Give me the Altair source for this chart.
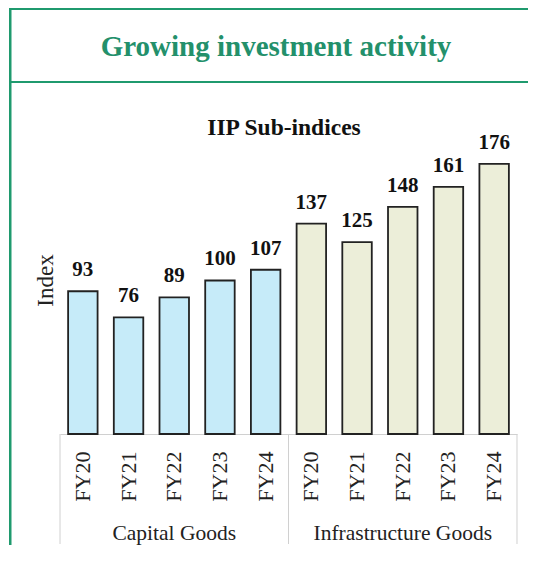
import altair as alt
import pandas as pd

TITLE = "Growing investment activity"
SUBTITLE = "IIP Sub-indices"
Y_TITLE = "Index"
GROUPS = ["Capital Goods", "Infrastructure Goods"]
YEARS = ["FY20", "FY21", "FY22", "FY23", "FY24"]
CAPITAL = [93, 76, 89, 100, 107]
INFRA = [137, 125, 148, 161, 176]
COLORS = ["#c6ebf9", "#eceed9"]

rows = []
for g, vals in zip(GROUPS, [CAPITAL, INFRA]):
    for y, v in zip(YEARS, vals):
        rows.append({"key": f"{g}|{y}", "group": g, "year": y, "value": v})
df = pd.DataFrame(rows)
keys = list(df["key"])

FONT = "Liberation Serif"
GREEN = "#1f9a6e"
W, H = 457, 284

xenc = alt.X(
    "key:N",
    sort=keys,
    scale=alt.Scale(paddingInner=0.355, paddingOuter=0.1775),
    axis=alt.Axis(
        title=None,
        labelExpr="split(datum.label, '|')[1]",
        labelAngle=270,
        labelAlign="right",
        labelBaseline="middle",
        labelPadding=17,
        labelFont=FONT,
        labelFontSize=22,
        labelColor="#222222",
        ticks=False,
        domainColor="#d0d0d0",
        domainWidth=1,
    ),
)

yenc = alt.Y(
    "value:Q",
    scale=alt.Scale(domain=[0, 185], nice=False),
    axis=alt.Axis(
        title=Y_TITLE,
        labels=False,
        ticks=False,
        domain=False,
        grid=False,
        titleFont=FONT,
        titleFontSize=23,
        titleFontWeight="normal",
        titleColor="#222222",
        titleAngle=270,
        titleBaseline="alphabetic",
        titleAlign="center",
        titleX=-8,
        titleY=130,
    ),
)

base = alt.Chart(df)

bars = base.mark_bar(stroke="#222222", strokeWidth=1.8).encode(
    x=xenc,
    y=yenc,
    color=alt.Color("group:N", scale=alt.Scale(domain=GROUPS, range=COLORS), legend=None),
)

labels = base.mark_text(
    font=FONT, fontSize=21, fontWeight="bold", baseline="alphabetic", dy=-15, color="#111111"
).encode(x=alt.X("key:N", sort=keys), y="value:Q", text="value:Q")

rule_left = base.transform_filter(
    alt.FieldOneOfPredicate(field="key", oneOf=[keys[0], keys[5]])
).mark_rule(color="#d0d0d0", strokeWidth=1, xOffset=-8.1).encode(
    x=alt.X("key:N", sort=keys, bandPosition=0),
    y=alt.value(H),
    y2=alt.value(H + 110),
)
rule_right = base.transform_filter(
    alt.FieldOneOfPredicate(field="key", oneOf=[keys[9]])
).mark_rule(color="#d0d0d0", strokeWidth=1, xOffset=8.1).encode(
    x=alt.X("key:N", sort=keys, bandPosition=1),
    y=alt.value(H),
    y2=alt.value(H + 110),
)

group_labels = base.transform_filter(
    alt.FieldOneOfPredicate(field="key", oneOf=[keys[2], keys[7]])
).mark_text(font=FONT, fontSize=21.5, baseline="alphabetic", color="#222222").encode(
    x=alt.X("key:N", sort=keys, bandPosition=0.5),
    y=alt.value(390),
    text="group:N",
)

one = alt.Data(values=[{"t": TITLE, "s": SUBTITLE}])

left_line = alt.Chart(one).mark_rect(color=GREEN).encode(
    x=alt.value(-51), x2=alt.value(-48.5), y=alt.value(-142), y2=alt.value(400)
)
top_line = alt.Chart(one).mark_rect(color=GREEN).encode(
    x=alt.value(-51), x2=alt.value(470), y=alt.value(-142), y2=alt.value(-140)
)
sep_line = alt.Chart(one).mark_rect(color=GREEN).encode(
    x=alt.value(-51), x2=alt.value(470), y=alt.value(-69), y2=alt.value(-67)
)
title_txt = alt.Chart(one).mark_text(
    font=FONT, fontSize=29, fontWeight="bold", color="#23906b", baseline="alphabetic"
).encode(x=alt.value(216), y=alt.value(-94), text="t:N")
sub_txt = alt.Chart(one).mark_text(
    font=FONT, fontSize=23.5, fontWeight="bold", color="#111111", baseline="alphabetic"
).encode(x=alt.value(224), y=alt.value(-15), text="s:N")

chart = alt.layer(
    rule_left, rule_right, bars, labels, group_labels,
    left_line, top_line, sep_line, title_txt, sub_txt,
).properties(
    width=W,
    height=H,
    autosize=alt.AutoSizeParams(type="none"),
    padding={"left": 52, "top": 142, "right": 11, "bottom": 111},
    background="white",
).configure_view(stroke=None)

chart.save("out.html", embed_options={"renderer": "svg", "actions": False})
